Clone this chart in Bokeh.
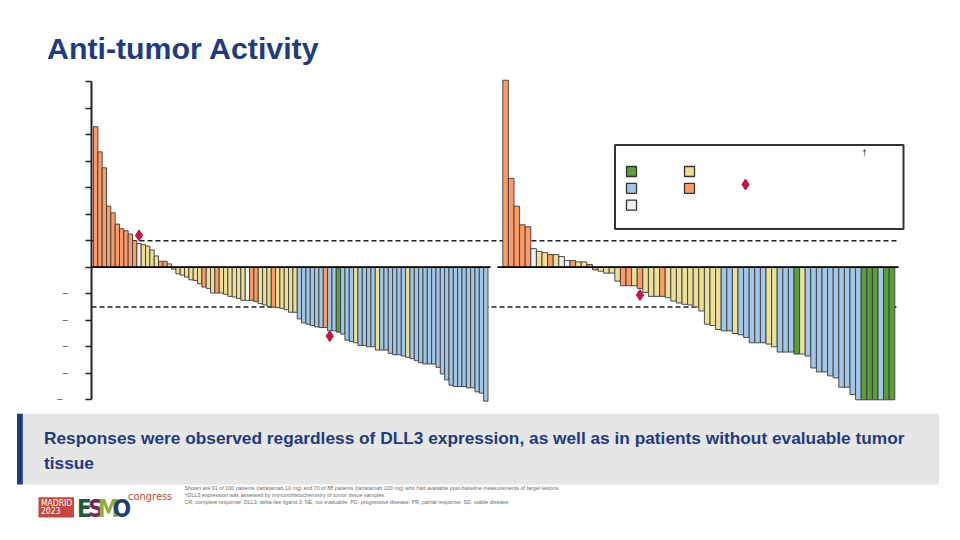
from bokeh.plotting import figure
from bokeh.models import Range1d, LinearAxis, FixedTicker, ColumnDataSource
from bokeh.core.properties import value
from bokeh.embed import file_html
from bokeh.resources import INLINE

# ---------------- data ----------------
# best % change from baseline in target lesions, tarlatamab 10 mg (left) and 100 mg (right)
left_values = [106, 87, 75, 46, 41, 32.5, 29, 27.5, 25, 20,
               18, 17, 16, 13, 8.5, 4.5, 4.5, 2.5, -1.5, -5,
               -6, -7.5, -9.5, -10, -12.5, -15, -16, -19.5, -19.5, -19.5,
               -20.5, -22, -22.5, -23.5, -25, -25, -25, -26, -27.5, -28.5,
               -29.5, -30, -30.5, -31, -32, -34, -34, -39, -42, -43,
               -44, -45, -45.5, -45.5, -48, -48, -49, -50.5, -55, -56,
               -57, -59, -59, -60, -60, -62.5, -62.5, -62.5, -65, -66,
               -66, -67, -68, -69, -70.5, -72, -73, -73, -73, -75.5,
               -80.5, -85, -89, -90, -90, -90, -91, -91, -94, -95,
               -101]
left_resp = (["PD"] * 10 + ["NE"] + ["SD"] * 4 + ["PD"] * 2 + ["SD"] * 8 + ["PD"]
             + ["SD"] * 2 + ["PD"] + ["SD"] * 6 + ["NE"] + ["PD"] * 2 + ["SD"] * 3
             + ["PD"] + ["SD"] * 5 + ["PR"] * 6 + ["PD"] + ["PR"] * 2 + ["CR"]
             + ["PR"] * 3 + ["SD"] + ["PR"] * 4 + ["SD"] + ["PR"] * 6 + ["SD"]
             + ["PR"] * 18)

right_values = [141, 67, 46, 32, 30.5, 14, 12, 11, 9.5, 9.5,
                8, 5, 5, 4, 4, 2, -2, -3, -4.5, -4.5,
                -10.5, -14, -14, -14, -16, -19, -22, -22, -22, -23,
                -25.5, -27, -28, -28.5, -30, -33, -43, -44, -47, -48,
                -48, -50, -51, -53, -57, -57, -57, -58, -60, -64,
                -64, -64, -65.5, -65.5, -67, -76, -79, -79, -82, -83.5,
                -90.5, -90.5, -96, -100, -100, -100, -100, -100, -100, -100]
right_resp = (["PD"] * 5 + ["NE"] + ["SD"] * 2 + ["PD"] + ["SD"] + ["NE"] * 2
              + ["PD"] + ["SD"] * 2 + ["PD"] * 2 + ["SD"] * 4 + ["PD"] * 2 + ["SD"]
              + ["PD"] + ["SD"] * 3 + ["PD"] + ["SD"] * 10 + ["PR"] * 2 + ["SD"]
              + ["PR"] * 5 + ["SD"] * 2 + ["PR"] * 3 + ["CR"] + ["SD"] + ["PR"] * 10
              + ["CR"] * 3 + ["PR"] + ["CR"] * 2)

left_marker_idx = [10, 54]
left_marker_val = [24, -52]
right_marker_idx = [24]
right_marker_val = [-21]

y_ticks = [-100, -80, -60, -40, -20, 0, 20, 40, 60, 80, 100, 120, 140]
threshold_lines = [20, -30]

resp_colors = {"CR": "#5A9E3A", "PR": "#A2C7E6", "NE": "#F1F1F1",
               "SD": "#ECDF98", "PD": "#FC9B68"}
legend_col1 = ["CR", "PR", "NE"]
legend_col2 = ["SD", "PD"]

title_text = "Anti-tumor Activity"
banner_lines = ["Responses were observed regardless of DLL3 expression, as well as in patients without evaluable tumor",
                "tissue"]
footnotes = ["Shown are 91 of 100 patients (tarlatamab 10 mg) and 70 of 88 patients (tarlatamab 100 mg) who had available post-baseline measurements of target lesions.",
             "\u2020DLL3 expression was assessed by immunohistochemistry of tumor tissue samples.",
             "CR, complete response; DLL3, delta-like ligand 3; NE, not evaluable; PD, progressive disease; PR, partial response; SD, stable disease."]

# ---------------- layout (page pixels) ----------------
W, H = 944, 536
PX0, PY0 = 0, 0
ZERO_Y = 266.7
PX_PCT = 1.326
L_X0, L_W = 93.0, 4.335
R_X0, R_W = 502.3, 5.6
NAVY = "#1F3B80"
FONT = value("Liberation Sans")
NARROW = value("'Liberation Sans Narrow', 'DejaVu Sans Condensed', 'Liberation Sans', sans-serif")

p = figure(width=W, height=H, output_backend="svg", toolbar_location=None,
           x_range=Range1d(PX0, PX0 + W), y_range=Range1d(PY0 + H, PY0),
           x_axis_type=None, y_axis_type=None, min_border=0,
           outline_line_color=None, background_fill_color="white",
           border_fill_color="white")
p.grid.visible = False

p.extra_y_ranges = {"pct": Range1d((ZERO_Y - (PY0 + H)) / PX_PCT, (ZERO_Y - PY0) / PX_PCT)}
p.extra_x_ranges = {
    "lx": Range1d((PX0 - L_X0) / L_W - 0.5, (PX0 + W - L_X0) / L_W - 0.5),
    "rx": Range1d((PX0 - R_X0) / R_W - 0.5, (PX0 + W - R_X0) / R_W - 0.5),
}

# title
p.text(x=[46.5], y=[48.3], text=[title_text], text_font=FONT, text_font_style="bold",
       text_font_size="30.3px", text_color=NAVY, text_baseline="alphabetic")

# threshold dashed lines across both panels
p.segment(x0=[91] * 2, x1=[898] * 2, y0=threshold_lines, y1=threshold_lines,
          y_range_name="pct", line_color="#222222", line_width=1.6, line_dash="5 3")

# bars
for vals, resp, xr in ((left_values, left_resp, "lx"), (right_values, right_resp, "rx")):
    src = ColumnDataSource(dict(idx=list(range(len(vals))), val=vals,
                                color=[resp_colors[r] for r in resp]))
    p.vbar(x="idx", top="val", bottom=0, width=1, source=src, x_range_name=xr,
           y_range_name="pct", fill_color="color", line_color="#3A3A3A", line_width=0.9)

# zero lines
p.segment(x0=[91, 497], x1=[490, 898], y0=[0, 0], y1=[0, 0], y_range_name="pct",
          line_color="black", line_width=1.8)

# markers
p.scatter(x=left_marker_idx, y=left_marker_val, x_range_name="lx", y_range_name="pct",
          marker="diamond", size=11, color="#C1163D")
p.scatter(x=right_marker_idx, y=right_marker_val, x_range_name="rx", y_range_name="pct",
          marker="diamond", size=11, color="#C1163D")

# y axis (labels removed in the source, only minus signs remain)
overrides = {}
for t in y_ticks:
    if t < 0:
        overrides[t] = "\u2212" + "\u2007" * len(str(-t))
    else:
        overrides[t] = ""
ax = LinearAxis(y_range_name="pct", fixed_location=91, bounds=(-100, 140),
                ticker=FixedTicker(ticks=y_ticks), major_tick_out=6, major_tick_in=0,
                minor_tick_out=0, minor_tick_in=0, axis_line_width=2,
                axis_line_color="#222222", major_tick_line_width=1.5,
                major_tick_line_color="#222222", major_label_overrides=overrides,
                major_label_standoff=6, major_label_text_font_size="10px",
                major_label_text_color="#444444", major_label_text_font="Liberation Sans")
p.add_layout(ax, "left")

# legend box (texts absent in the source)
LG_L, LG_R, LG_T, LG_B = 614.5, 903, 144.5, 228.5
p.quad(left=[LG_L], right=[LG_R], top=[LG_T], bottom=[LG_B], fill_color="white",
       line_color="#333333", line_width=2)
SW_X1, SW_X2, SW_Y, SW_DY = 631, 689, 171, 16.8
p.rect(x=[SW_X1] * len(legend_col1), y=[SW_Y + SW_DY * i for i in range(len(legend_col1))],
       width=10, height=10, fill_color=[resp_colors[r] for r in legend_col1],
       line_color="#333333", line_width=1.3)
p.rect(x=[SW_X2] * len(legend_col2), y=[SW_Y + SW_DY * i for i in range(len(legend_col2))],
       width=10, height=10, fill_color=[resp_colors[r] for r in legend_col2],
       line_color="#333333", line_width=1.3)
p.scatter(x=[745], y=[184], marker="diamond", size=11, color="#C1163D")
p.text(x=[864], y=[152], text=["\u2020"], text_font=FONT, text_font_size="9px",
       text_color="#333333", text_align="center", text_baseline="middle")

# banner
p.quad(left=[16.5], right=[938.5], top=[413.3], bottom=[484], fill_color="#E6E6E6",
       line_color=None)
p.quad(left=[16.5], right=[22.3], top=[413.3], bottom=[484], fill_color=NAVY,
       line_color=None)
p.text(x=[43.5, 43.5], y=[437.5, 462.5], text=banner_lines, text_font=FONT,
       text_font_style="bold", text_font_size="17.3px", text_color=NAVY,
       text_baseline="alphabetic")

# footnotes
p.text(x=[184] * 3, y=[487.5 + 7.2 * i for i in range(3)], text=footnotes, text_font=FONT,
       text_font_size="5.4px", text_color="#6E6E6E", text_baseline="middle")

# logo
p.quad(left=[38], right=[73.5], top=[496.7], bottom=[517], fill_color="#C8473D",
       line_color=None)
p.text(x=[40.5, 40.5], y=[502.3, 510.3], text=["MADRID", "2023"], text_font=NARROW,
       text_font_size="8.5px", text_color="white", text_baseline="alphabetic")
p.text(x=[84, 95.5, 108, 121.5], y=[508.5] * 4, text=["E", "S", "M", "O"], text_font=NARROW,
       text_font_style="bold", text_font_size="24px",
       text_color=["#1D5B3A", "#7A2458", "#8CAE3C", "#1F3F6A"], text_align="center",
       text_baseline="alphabetic")
p.text(x=[127.5], y=[496], text=["congress"], text_font=NARROW, text_font_size="11px",
       text_color="#C8473D", text_baseline="alphabetic")

open("out.html", "w").write(file_html(p, INLINE))
